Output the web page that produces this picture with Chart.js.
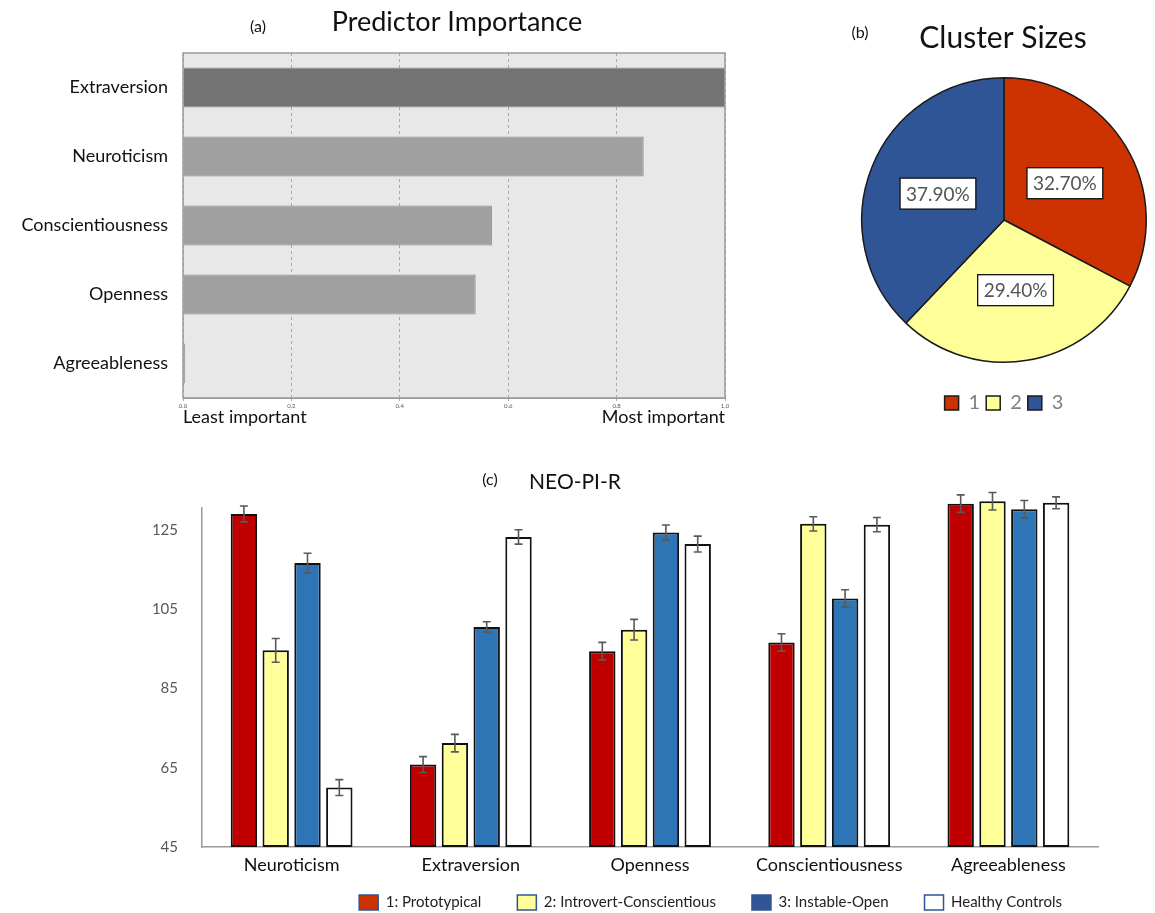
<!DOCTYPE html>
<html>
<head>
<meta charset="utf-8">
<script src="https://cdn.jsdelivr.net/npm/chart.js@4.4.1/dist/chart.umd.min.js"></script>
<style>
  html, body { margin: 0; padding: 0; background: #fff; overflow: hidden; }
  .panel { position: absolute; }
</style>
</head>
<body>
<div class="panel" style="left:0;top:0;width:745px;height:430px"><canvas id="importance"></canvas></div>
<div class="panel" style="left:800px;top:0;width:355px;height:430px"><canvas id="clusters"></canvas></div>
<div class="panel" style="left:0;top:460px;width:1155px;height:470px"><canvas id="neo"></canvas></div>
<script>
// (a) predictor importance
const predictors = ['Extraversion', 'Neuroticism', 'Conscientiousness', 'Openness', 'Agreeableness'];
const importance = [1.0, 0.85, 0.57, 0.54, 0.004];

// (b) cluster sizes, percent
const clusterLabels = ['1', '2', '3'];
const clusterSizes = [32.7, 29.4, 37.9];

// (c) NEO-PI-R means and error bars per cluster
const traits = ['Neuroticism', 'Extraversion', 'Openness', 'Conscientiousness', 'Agreeableness'];
const proto = [129.0, 65.8, 94.4, 96.6, 131.6];
const errProto = [2.0, 2.0, 2.2, 2.2, 2.2];
const introvert = [94.6, 71.2, 99.8, 126.5, 132.2];
const errIntro = [3.0, 2.2, 2.6, 1.8, 2.2];
const instable = [116.6, 100.5, 124.3, 107.7, 130.2];
const errInst = [2.5, 1.3, 1.9, 2.2, 2.2];
const healthy = [60.0, 123.2, 121.4, 126.3, 131.8];
const errHealthy = [2.0, 1.8, 2.0, 1.8, 1.5];
const yTicks = [45, 65, 85, 105, 125];

Chart.defaults.font.family = 'Lato';
Chart.defaults.animation = false;

// panel letter + title text
const heading = {
    id: 'heading',
    afterDraw(chart, args, opts) {
        const ctx = chart.ctx;
        ctx.save();
        ctx.fillStyle = '#111';
        ctx.textBaseline = 'middle';
        ctx.textAlign = 'center';
        ctx.font = '16px Lato';
        ctx.fillText(opts.letter, opts.letterX, opts.letterY);
        ctx.font = opts.titleSize + 'px Lato';
        ctx.fillText(opts.title, opts.titleX, opts.titleY);
        ctx.restore();
    }
};

const importanceFrame = {
    id: 'importanceFrame',
    beforeDraw(chart) {
        const a = chart.chartArea;
        chart.ctx.save();
        chart.ctx.fillStyle = '#e8e8e8';
        chart.ctx.fillRect(a.left, a.top, a.width, a.height);
        chart.ctx.restore();
    },
    afterDraw(chart) {
        const a = chart.chartArea;
        const ctx = chart.ctx;
        ctx.save();
        ctx.strokeStyle = '#9a9a9a';
        ctx.lineWidth = 1.5;
        ctx.strokeRect(a.left, a.top, a.width, a.height);
        ctx.fillStyle = '#111';
        ctx.font = '18px Lato';
        ctx.textBaseline = 'middle';
        ctx.textAlign = 'left';
        ctx.fillText('Least important', a.left, a.bottom + 19);
        ctx.textAlign = 'right';
        ctx.fillText('Most important', a.right, a.bottom + 19);
        ctx.restore();
    }
};

const sliceLabels = {
    id: 'sliceLabels',
    afterDatasetsDraw(chart) {
        const ctx = chart.ctx;
        const meta = chart.getDatasetMeta(0);
        ctx.save();
        ctx.font = '19px Lato';
        ctx.textAlign = 'center';
        ctx.textBaseline = 'middle';
        meta.data.forEach((arc, i) => {
            const p = arc.getCenterPoint();
            const txt = clusterSizes[i].toFixed(2) + '%';
            const w = ctx.measureText(txt).width + 12, h = 31;
            ctx.fillStyle = '#fff';
            ctx.fillRect(p.x - w / 2, p.y - h / 2, w, h);
            ctx.strokeStyle = '#111';
            ctx.lineWidth = 1.3;
            ctx.strokeRect(p.x - w / 2, p.y - h / 2, w, h);
            ctx.fillStyle = '#555';
            ctx.fillText(txt, p.x, p.y + 1);
        });
        ctx.restore();
    }
};

const errorBars = {
    id: 'errorBars',
    afterDatasetsDraw(chart) {
        const ctx = chart.ctx;
        const y = chart.scales.y;
        ctx.save();
        ctx.strokeStyle = '#595959';
        ctx.lineWidth = 1.6;
        chart.data.datasets.forEach((ds, di) => {
            chart.getDatasetMeta(di).data.forEach((bar, i) => {
                const hi = y.getPixelForValue(ds.data[i] + ds.errors[i]);
                const lo = y.getPixelForValue(ds.data[i] - ds.errors[i]);
                ctx.beginPath();
                ctx.moveTo(bar.x, hi); ctx.lineTo(bar.x, lo);
                ctx.moveTo(bar.x - 4, hi); ctx.lineTo(bar.x + 4, hi);
                ctx.moveTo(bar.x - 4, lo); ctx.lineTo(bar.x + 4, lo);
                ctx.stroke();
            });
        });
        ctx.restore();
    }
};

// x axis is kept short so the legend sits close, but its labels need room to draw
const labelRoom = {
    id: 'labelRoom',
    afterLayout(chart) {
        const x = chart.scales.x;
        x.bottom = x.top + 34;
    }
};

new Chart(document.getElementById('importance'), {
    type: 'bar',
    data: {
        labels: predictors,
        datasets: [{
            data: importance,
            backgroundColor: (c) => c.dataIndex === 0 ? '#737373' : '#a0a0a0',
            borderColor: '#8c8c8c',
            borderWidth: 1,
            barPercentage: 0.58,
            categoryPercentage: 1.0,
        }],
    },
    options: {
        indexAxis: 'y',
        responsive: true,
        maintainAspectRatio: false,
        layout: { padding: { top: 53, right: 20, left: 0, bottom: 0 } },
        plugins: {
            legend: { display: false },
            tooltip: { enabled: false },
            heading: { letter: '(a)', letterX: 258, letterY: 27, title: 'Predictor Importance', titleX: 457, titleY: 22, titleSize: 27 },
        },
        scales: {
            x: {
                min: 0,
                max: 1,
                ticks: { stepSize: 0.2, font: { size: 6 }, color: '#555', padding: 1, callback: (v) => v.toFixed(1) },
                grid: { color: '#a8a8a8', tickLength: 3 },
                border: { dash: [3, 3], color: '#9a9a9a' },
                afterFit: (s) => { s.height = 32; },
            },
            y: {
                grid: { display: false, drawTicks: false },
                border: { display: false },
                ticks: { font: { size: 18 }, color: '#111', padding: 15 },
                afterFit: (s) => { s.width = 183; },
            },
        },
    },
    plugins: [importanceFrame, heading],
});

new Chart(document.getElementById('clusters'), {
    type: 'pie',
    data: {
        labels: clusterLabels,
        datasets: [{
            data: clusterSizes,
            backgroundColor: ['#CC3300', '#FFFF99', '#2F5597'],
            borderColor: '#1a1a1a',
            borderWidth: 1.5,
        }],
    },
    options: {
        responsive: true,
        maintainAspectRatio: false,
        layout: { padding: { top: 53, right: 8, left: 61, bottom: 7 } },
        plugins: {
            tooltip: { enabled: false },
            legend: {
                position: 'bottom',
                labels: { boxWidth: 14, boxHeight: 14, padding: 6, color: '#7f7f7f', font: { size: 20 } },
            },
            heading: { letter: '(b)', letterX: 60, letterY: 33, title: 'Cluster Sizes', titleX: 203, titleY: 38, titleSize: 30 },
        },
    },
    plugins: [sliceLabels, heading],
});

const legendFill = ['#CC3300', '#FFFF99', '#2F5597', '#FFFFFF'];

new Chart(document.getElementById('neo'), {
    type: 'bar',
    data: {
        labels: traits,
        datasets: [
            { label: '1: Prototypical', data: proto, errors: errProto, backgroundColor: '#C00000' },
            { label: '2: Introvert-Conscientious', data: introvert, errors: errIntro, backgroundColor: '#FFFF99' },
            { label: '3: Instable-Open', data: instable, errors: errInst, backgroundColor: '#2E75B6' },
            { label: 'Healthy Controls', data: healthy, errors: errHealthy, backgroundColor: '#FFFFFF' },
        ],
    },
    options: {
        responsive: true,
        maintainAspectRatio: false,
        datasets: {
            bar: {
                base: yTicks[0],
                borderColor: '#111',
                borderWidth: 2,
                borderSkipped: false,
                categoryPercentage: 0.71,
                barPercentage: 0.83,
                clip: false,
            },
        },
        layout: { padding: { top: 48, right: 57, left: 0, bottom: 10 } },
        plugins: {
            tooltip: { enabled: false },
            heading: { letter: '(c)', letterX: 490, letterY: 20, title: 'NEO-PI-R', titleX: 575, titleY: 22, titleSize: 21 },
            legend: {
                position: 'bottom',
                align: 'end',
                labels: {
                    boxWidth: 19,
                    boxHeight: 15,
                    padding: 36,
                    font: { size: 15 },
                    generateLabels: (chart) => chart.data.datasets.map((ds, i) => ({
                        text: ds.label,
                        fillStyle: legendFill[i],
                        strokeStyle: '#2F5597',
                        lineWidth: 1.5,
                        fontColor: '#222',
                        datasetIndex: i,
                    })),
                },
            },
        },
        scales: {
            x: {
                grid: { display: false, drawTicks: false },
                border: { color: '#9a9a9a', width: 1.5 },
                ticks: { font: { size: 18 }, color: '#111', padding: 7 },
                afterFit: (s) => { s.height = 12; },
            },
            y: {
                min: 45,
                max: 130.5,
                afterBuildTicks: (s) => { s.ticks = yTicks.map((v) => ({ value: v })); },
                grid: { display: false, drawTicks: false },
                border: { color: '#9a9a9a', width: 1.5 },
                ticks: { font: { size: 15 }, color: '#595959', padding: 24 },
                afterFit: (s) => { s.width = 202; },
            },
        },
    },
    plugins: [errorBars, heading, labelRoom],
});
</script>
</body>
</html>
